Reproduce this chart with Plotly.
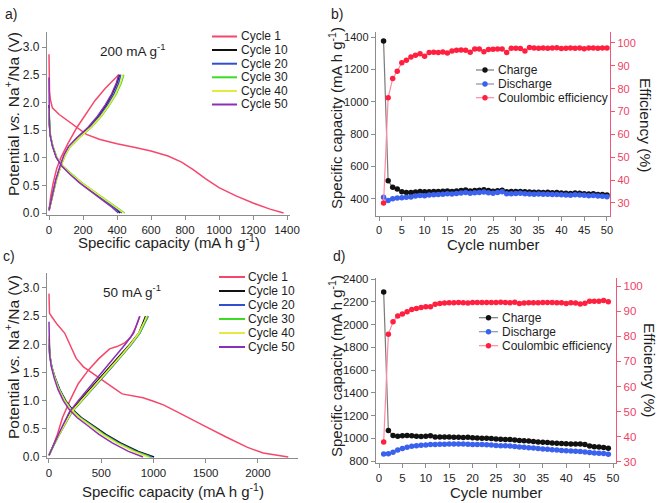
import plotly.graph_objects as go

W, H = 661, 503

# ---------------- Panel a (200 mA g-1) ----------------
A1_DIS_CAP = [0, 1, 3, 8, 20, 60, 140, 220, 300, 400, 500, 600, 700, 780, 850, 920, 1000, 1100, 1200, 1300, 1380]
A1_DIS_V = [2.87, 2.5, 2.2, 2.05, 1.9, 1.78, 1.6, 1.42, 1.33, 1.25, 1.19, 1.12, 1.03, 0.92, 0.78, 0.62, 0.46, 0.31, 0.18, 0.07, 0.0]
A1_CHG_CAP = [0, 10, 25, 45, 70, 110, 165, 220, 270, 330, 390, 410]
A1_CHG_V = [0.05, 0.3, 0.55, 0.8, 1.0, 1.25, 1.55, 1.8, 2.03, 2.25, 2.45, 2.5]

A_DIS_V_GRID = [1.6, 1.4, 1.2, 1.0, 0.85, 0.7, 0.55, 0.4, 0.25, 0.1, 0.0]
A10_DIS_START_V = 1.95
A20_DIS_START_V = 1.8
A30_DIS_START_V = 1.85
A40_DIS_START_V = 1.9
A50_DIS_START_V = 2.45
A10_DIS_CAP = [0, 2, 8, 22, 45, 78, 128, 185, 250, 318, 385, 418]
A20_DIS_CAP = [0, 2, 8, 22, 45, 79, 130, 188, 254, 322, 390, 428]
A30_DIS_CAP = [0, 2, 8, 23, 46, 80, 133, 192, 260, 330, 402, 445]
A40_DIS_CAP = [0, 2, 8, 23, 46, 80, 132, 190, 258, 327, 398, 440]
A50_DIS_CAP = [0, 2, 7, 21, 43, 75, 123, 178, 242, 308, 372, 408]

A_CHG_V_GRID = [0.05, 0.3, 0.6, 0.85, 1.05, 1.2, 1.35, 1.55, 1.75, 1.95, 2.15, 2.35, 2.5]
A10_CHG_CAP = [0, 18, 42, 68, 92, 118, 165, 235, 290, 335, 372, 400, 415]
A20_CHG_CAP = [0, 18, 42, 68, 94, 122, 170, 242, 298, 344, 382, 410, 422]
A30_CHG_CAP = [0, 19, 44, 70, 96, 125, 175, 250, 308, 355, 395, 425, 440]
A40_CHG_CAP = [0, 19, 44, 70, 95, 124, 173, 247, 305, 352, 391, 420, 435]
A50_CHG_CAP = [0, 17, 40, 65, 88, 114, 160, 230, 285, 330, 368, 396, 410]

# ---------------- Panel c (50 mA g-1) ----------------
C1_DIS_CAP = [0, 5, 30, 80, 150, 200, 260, 330, 450, 600, 700, 800, 900, 1000, 1100, 1250, 1400, 1500, 1700, 1900, 2050, 2200, 2290]
C1_DIS_V = [2.9, 2.55, 2.48, 2.35, 2.2, 2.0, 1.75, 1.6, 1.45, 1.25, 1.12, 1.08, 1.05, 0.99, 0.92, 0.78, 0.63, 0.54, 0.35, 0.17, 0.07, 0.02, 0.0]
C1_CHG_CAP = [0, 30, 80, 130, 200, 280, 380, 480, 580, 650, 720, 780, 830, 870]
C1_CHG_V = [0.03, 0.15, 0.4, 0.7, 1.0, 1.3, 1.55, 1.75, 1.92, 1.96, 2.02, 2.12, 2.3, 2.5]

C_DIS_V_GRID = [1.8, 1.6, 1.4, 1.2, 1.0, 0.85, 0.7, 0.55, 0.4, 0.25, 0.1, 0.0]
C10_DIS_START_V = 2.0
C20_DIS_START_V = 2.1
C30_DIS_START_V = 2.05
C40_DIS_START_V = 2.15
C50_DIS_START_V = 2.4
C10_DIS_CAP = [0, 8, 27, 60, 102, 160, 222, 310, 430, 545, 685, 855, 1005]
C20_DIS_CAP = [0, 8, 26, 58, 99, 156, 216, 302, 420, 532, 670, 838, 985]
C30_DIS_CAP = [0, 8, 26, 57, 97, 153, 212, 297, 413, 524, 660, 826, 970]
C40_DIS_CAP = [0, 7, 25, 55, 94, 149, 207, 290, 404, 513, 647, 810, 950]
C50_DIS_CAP = [0, 7, 23, 50, 86, 137, 190, 268, 375, 478, 605, 760, 900]

C_CHG_V_GRID = [0.03, 0.2, 0.4, 0.6, 0.8, 1.0, 1.2, 1.4, 1.6, 1.8, 2.0, 2.2, 2.4, 2.5]
C10_CHG_CAP = [0, 40, 95, 150, 205, 294, 390, 486, 582, 678, 774, 860, 905, 925]
C20_CHG_CAP = [0, 42, 100, 160, 220, 315, 415, 510, 605, 700, 790, 870, 925, 950]
C30_CHG_CAP = [0, 42, 99, 158, 218, 312, 410, 505, 600, 695, 785, 868, 920, 945]
C40_CHG_CAP = [0, 41, 98, 156, 215, 308, 405, 500, 595, 690, 780, 860, 912, 935]
C50_CHG_CAP = [0, 38, 90, 143, 196, 280, 370, 460, 550, 640, 730, 810, 852, 868]

# ---------------- Panel b (cycling, 200 mA g-1) ----------------
B_CYCLES = list(range(1, 51))
B_CHARGE = [1375, 512, 472, 462, 445, 440, 440, 443, 446, 445, 444, 446, 447, 448, 450, 447, 449, 452, 455, 450,
            452, 454, 457, 452, 448, 451, 454, 445, 446, 447, 446, 444, 443, 441, 442, 440, 441, 439, 440, 437,
            436, 434, 437, 435, 433, 431, 432, 428, 427, 424]
B_DISCHARGE = [410, 390, 402, 406, 408, 410, 413, 418, 422, 420, 424, 426, 428, 430, 432, 431, 434, 437, 440, 436,
               438, 440, 443, 439, 436, 440, 445, 432, 433, 434, 435, 432, 431, 430, 431, 429, 429, 428, 428, 426,
               425, 423, 426, 424, 423, 420, 421, 418, 417, 414]
B_EFF = [30, 76, 84.5, 87.6, 91.4, 92.4, 93.9, 94.6, 95.3, 94.2, 95.8, 95.9, 95.8, 96.1, 95.6, 96.5, 96.8, 96.9, 96.8, 95.9,
         97.4, 97.4, 96.2, 97.1, 97.2, 97.4, 97.4, 95.8, 97.7, 97.7, 97.6, 96.5, 98.0, 97.8, 97.7, 97.8, 97.7, 97.8, 97.9, 97.6,
         97.7, 97.8, 97.7, 97.8, 97.5, 97.8, 97.8, 97.7, 97.8, 97.8]

# ---------------- Panel d (cycling, 50 mA g-1) ----------------
D_CYCLES = list(range(1, 50))
D_CHARGE = [2285, 1068, 1024, 1018, 1021, 1024, 1021, 1018, 1016, 1018, 1021, 1012, 1011, 1010, 1010, 1009, 1008, 1007, 1008, 1005,
            1003, 1001, 999, 997, 994, 991, 990, 989, 985, 980, 978, 975, 971, 968, 965, 962, 958, 955, 954, 952,
            950, 950, 949, 946, 932, 926, 922, 918, 913]
D_DISCHARGE = [862, 864, 878, 897, 910, 921, 929, 934, 938, 941, 944, 946, 947, 948, 949, 949, 950, 950, 948, 946,
               945, 944, 942, 940, 937, 935, 934, 932, 928, 923, 920, 917, 914, 910, 906, 903, 899, 896, 893, 890,
               888, 886, 884, 880, 875, 871, 868, 865, 860]
D_EFF = [38, 80.8, 85.8, 88.1, 88.9, 89.8, 90.7, 91.1, 91.5, 91.8, 91.8, 92.8, 93.1, 93.3, 93.4, 93.4, 93.5, 93.4, 93.3, 93.5,
         93.5, 93.5, 93.5, 93.5, 93.5, 93.6, 93.5, 93.4, 93.6, 93.1, 93.3, 93.4, 93.4, 93.4, 93.5, 93.5, 93.5, 93.4, 93.4, 93.1,
         93.4, 93.3, 92.9, 93.2, 94.0, 94.0, 94.0, 94.2, 93.8]

CYCLE_NAMES = ["Cycle 1", "Cycle 10", "Cycle 20", "Cycle 30", "Cycle 40", "Cycle 50"]
CYCLE_COLORS = ["#f5476c", "#111111", "#2f4fcf", "#3bdc22", "#e6ea3c", "#8a2fb8"]
CYC_LEG_NAMES = ["Charge", "Discharge", "Coulombic efficiency"]

FONT = "Liberation Sans, Arial, sans-serif"
TXT = "#1e1e1e"
AXC = "#8c8c8c"
PINK_AX = "#f2577a"


def fx(px):
    return px / W


def fy(py):
    return 1 - py / H


fig = go.Figure()


def add_profile(caps, volts, color, xa, ya):
    fig.add_trace(go.Scatter(x=caps, y=volts, mode="lines", line=dict(color=color, width=1.5),
                             xaxis=xa, yaxis=ya, showlegend=False, hoverinfo="skip"))


# panel a
add_profile(A1_DIS_CAP, A1_DIS_V, CYCLE_COLORS[0], "x", "y")
add_profile(A1_CHG_CAP, A1_CHG_V, CYCLE_COLORS[0], "x", "y")
a_dis = [(A10_DIS_START_V, A10_DIS_CAP), (A20_DIS_START_V, A20_DIS_CAP), (A30_DIS_START_V, A30_DIS_CAP),
         (A40_DIS_START_V, A40_DIS_CAP), (A50_DIS_START_V, A50_DIS_CAP)]
a_chg = [A10_CHG_CAP, A20_CHG_CAP, A30_CHG_CAP, A40_CHG_CAP, A50_CHG_CAP]
for i in range(5):
    sv, cap = a_dis[i]
    add_profile(cap, [sv] + A_DIS_V_GRID, CYCLE_COLORS[i + 1], "x", "y")
    add_profile(a_chg[i], A_CHG_V_GRID, CYCLE_COLORS[i + 1], "x", "y")

# panel c
add_profile(C1_DIS_CAP, C1_DIS_V, CYCLE_COLORS[0], "x3", "y4")
add_profile(C1_CHG_CAP, C1_CHG_V, CYCLE_COLORS[0], "x3", "y4")
c_dis = [(C10_DIS_START_V, C10_DIS_CAP), (C20_DIS_START_V, C20_DIS_CAP), (C30_DIS_START_V, C30_DIS_CAP),
         (C40_DIS_START_V, C40_DIS_CAP), (C50_DIS_START_V, C50_DIS_CAP)]
c_chg = [C10_CHG_CAP, C20_CHG_CAP, C30_CHG_CAP, C40_CHG_CAP, C50_CHG_CAP]
for i in range(5):
    sv, cap = c_dis[i]
    add_profile(cap, [sv] + C_DIS_V_GRID, CYCLE_COLORS[i + 1], "x3", "y4")
    add_profile(c_chg[i], C_CHG_V_GRID, CYCLE_COLORS[i + 1], "x3", "y4")

# cycling panels
SER_STYLE = [
    dict(line="#7a7a7a", marker="#111111"),
    dict(line="#8593ad", marker="#3b62ee"),
    dict(line="#ff8aa0", marker="#ff1f3f"),
]


def add_cyc(x, y, st, xa, ya, name):
    fig.add_trace(go.Scatter(x=x, y=y, mode="lines+markers", name=name,
                             line=dict(color=st["line"], width=1.2),
                             marker=dict(color=st["marker"], size=5.5),
                             xaxis=xa, yaxis=ya, showlegend=False, hoverinfo="skip"))


add_cyc(B_CYCLES, B_CHARGE, SER_STYLE[0], "x2", "y2", CYC_LEG_NAMES[0])
add_cyc(B_CYCLES, B_DISCHARGE, SER_STYLE[1], "x2", "y2", CYC_LEG_NAMES[1])
add_cyc(B_CYCLES, B_EFF, SER_STYLE[2], "x2", "y3", CYC_LEG_NAMES[2])
add_cyc(D_CYCLES, D_CHARGE, SER_STYLE[0], "x4", "y5", CYC_LEG_NAMES[0])
add_cyc(D_CYCLES, D_DISCHARGE, SER_STYLE[1], "x4", "y5", CYC_LEG_NAMES[1])
add_cyc(D_CYCLES, D_EFF, SER_STYLE[2], "x4", "y6", CYC_LEG_NAMES[2])


def axis(**kw):
    base = dict(showline=True, linecolor=AXC, linewidth=1.2, ticks="outside", ticklen=4, tickwidth=1,
                tickcolor=AXC, showgrid=False, zeroline=False, automargin=False,
                tickfont=dict(family=FONT, size=12, color=TXT))
    base.update(kw)
    return base


fig.update_layout(
    width=W, height=H, autosize=False,
    margin=dict(l=0, r=0, t=0, b=0, pad=0, autoexpand=False),
    paper_bgcolor="white", plot_bgcolor="white",
    font=dict(family=FONT, color=TXT),
    xaxis=axis(domain=[fx(47), fx(290)], range=[-11.8, 1417.6], anchor="y",
               tickvals=[0, 200, 400, 600, 800, 1000, 1200, 1400],
               tickfont=dict(family=FONT, size=11.5, color=TXT)),
    yaxis=axis(domain=[fy(215), fy(32)], range=[-0.036, 3.271], anchor="x",
               tickvals=[0, 0.5, 1.0, 1.5, 2.0, 2.5, 3.0], tickformat=".1f"),
    xaxis2=axis(domain=[fx(376), fx(610)], range=[-0.66, 50.66], anchor="y2",
                tickvals=list(range(0, 51, 5)), tickfont=dict(family=FONT, size=11, color=TXT)),
    yaxis2=axis(domain=[fy(216), fy(32)], range=[295, 1431], anchor="x2",
                tickvals=[400, 600, 800, 1000, 1200, 1400], tickfont=dict(family=FONT, size=11, color=TXT)),
    yaxis3=axis(overlaying="y2", side="right", anchor="x2", range=[24.3, 104.8],
                tickvals=[30, 40, 50, 60, 70, 80, 90, 100], linecolor=PINK_AX, tickcolor=PINK_AX,
                tickfont=dict(family=FONT, size=11, color="#ee3f66")),
    xaxis3=axis(domain=[fx(47), fx(298)], range=[-19, 2383], anchor="y4",
                tickvals=[0, 500, 1000, 1500, 2000],
                tickfont=dict(family=FONT, size=11.5, color=TXT)),
    yaxis4=axis(domain=[fy(458), fy(273)], range=[-0.018, 3.266], anchor="x3",
                tickvals=[0, 0.5, 1.0, 1.5, 2.0, 2.5, 3.0], tickformat=".1f"),
    xaxis4=axis(domain=[fx(376), fx(616)], range=[-0.64, 50.64], anchor="y5",
                tickvals=list(range(0, 51, 5)), tickfont=dict(family=FONT, size=11.5, color=TXT)),
    yaxis5=axis(domain=[fy(463), fy(278)], range=[782.4, 2408.8], anchor="x4",
                tickvals=list(range(800, 2401, 200)), tickfont=dict(family=FONT, size=11.5, color=TXT)),
    yaxis6=axis(overlaying="y5", side="right", anchor="x4", range=[29.6, 103.2],
                tickvals=[30, 40, 50, 60, 70, 80, 90, 100], linecolor=PINK_AX, tickcolor=PINK_AX,
                tickfont=dict(family=FONT, size=11.5, color="#ee3f66")),
)

ann = []
shapes = []


def text(px, py, s, size=12, angle=0, xanchor="center", color=TXT):
    ann.append(dict(x=fx(px), y=fy(py), xref="paper", yref="paper", text=s, showarrow=False,
                    textangle=angle, xanchor=xanchor, yanchor="middle",
                    font=dict(family=FONT, size=size, color=color)))


CAP_TITLE = "Specific capacity (mA h g<sup>-1</sup>)"
POT_TITLE = "Potential <i>vs.</i> Na<sup>+</sup>/Na (V)"

# panel labels
text(11, 14, "a)", 14)
text(337, 14, "b)", 14)
text(9, 256, "c)", 14)
text(339, 256, "d)", 14)

# axis titles
text(169, 241, CAP_TITLE, 15)
text(12, 114, POT_TITLE, 15.5, angle=-90)
text(173, 490, CAP_TITLE, 15)
text(12, 357, POT_TITLE, 15.5, angle=-90)
text(493, 244, "Cycle number", 15)
text(335, 118, CAP_TITLE, 15, angle=-90)
text(645, 125, "Efficiency (%)", 15.5, angle=90)
text(496, 492, "Cycle number", 15)
text(335, 366, CAP_TITLE, 15, angle=-90)
text(650, 370, "Efficiency (%)", 15.5, angle=90)

# rate labels
text(132, 50, "200 mA g<sup>-1</sup>", 13.5)
text(132, 291, "50 mA g<sup>-1</sup>", 13.5)


# manual legends
def cycle_legend(x0, x1, tx, rows):
    for name, col, ry in zip(CYCLE_NAMES, CYCLE_COLORS, rows):
        shapes.append(dict(type="line", xref="paper", yref="paper", x0=fx(x0), x1=fx(x1), y0=fy(ry), y1=fy(ry),
                           line=dict(color=col, width=2)))
        text(tx, ry, name, 12, xanchor="left")


def cyc_legend(x0, x1, tx, rows):
    for name, st, ry in zip(CYC_LEG_NAMES, SER_STYLE, rows):
        shapes.append(dict(type="line", xref="paper", yref="paper", x0=fx(x0), x1=fx(x1), y0=fy(ry), y1=fy(ry),
                           line=dict(color=st["line"], width=1.2)))
        xm = fx((x0 + x1) / 2)
        shapes.append(dict(type="circle", xref="paper", yref="paper", xsizemode="pixel", ysizemode="pixel",
                           xanchor=xm, yanchor=fy(ry), x0=-2.7, x1=2.7, y0=-2.7, y1=2.7,
                           fillcolor=st["marker"], line=dict(width=0)))
        text(tx, ry, name, 12, xanchor="left")


cycle_legend(212, 237, 238.5, [36.5, 50, 63.7, 77.3, 91, 104.5])
cycle_legend(219, 245, 245.5, [277, 291, 305, 319, 333, 347])
cyc_legend(476, 494, 495.5, [70, 84, 97.7])
cyc_legend(479, 498, 499.5, [317.7, 331.7, 345.7])

fig.update_layout(annotations=ann, shapes=shapes)

fig.write_html("out.html",
               config={"displayModeBar": False, "staticPlot": True},
               post_script="document.body.style.margin='0';document.body.style.padding='0';"
                           "document.body.style.overflow='hidden';")
